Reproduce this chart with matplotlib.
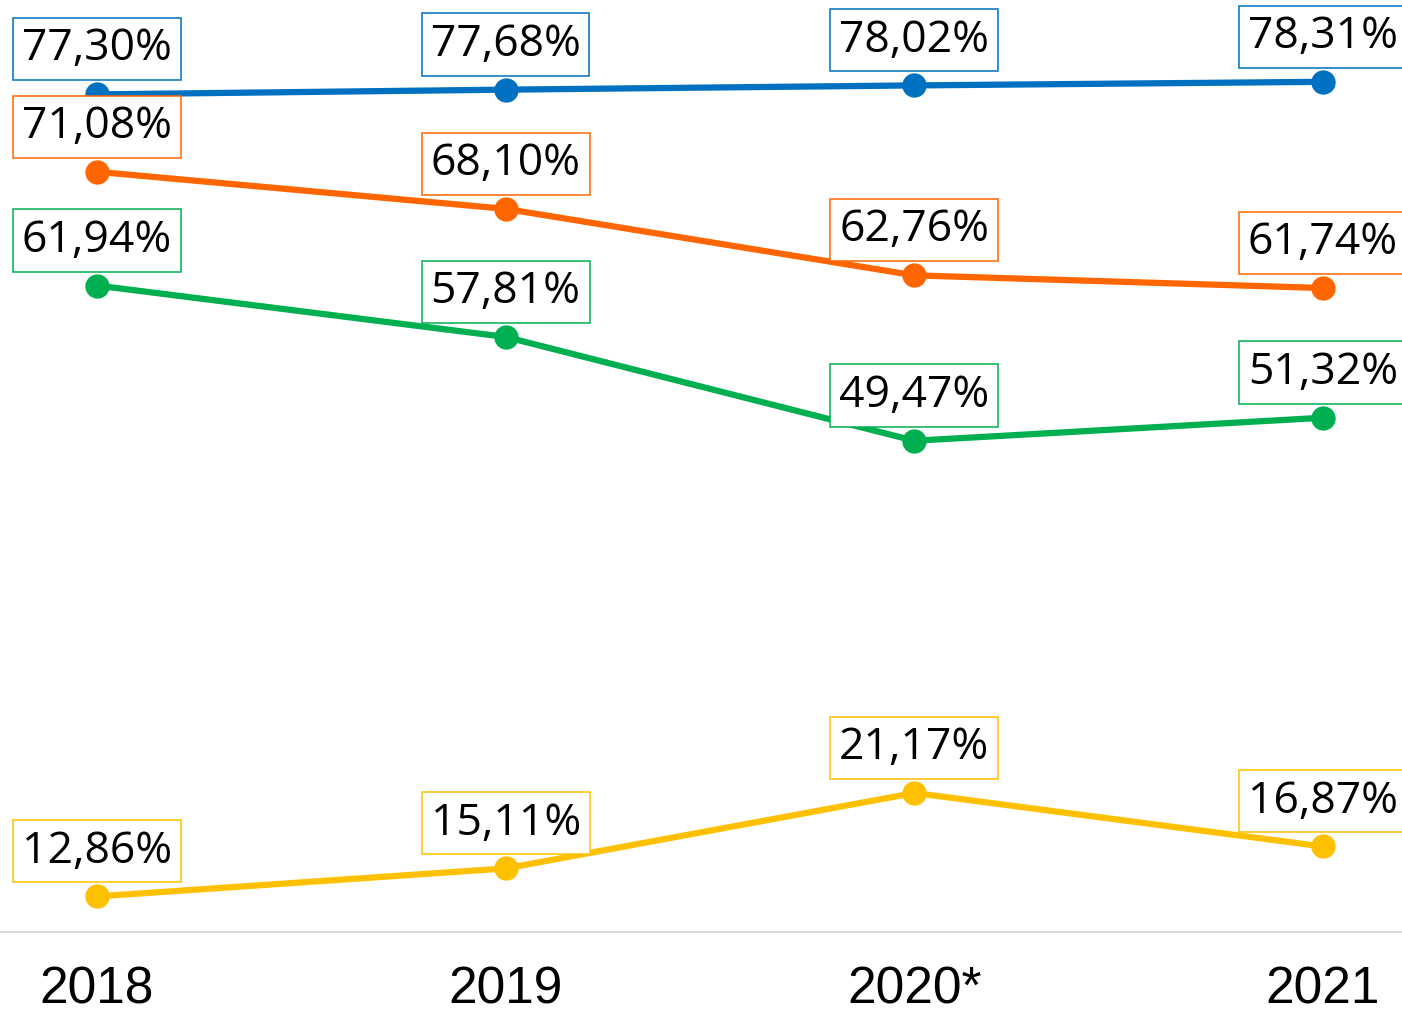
import matplotlib
matplotlib.use("Agg")
import matplotlib.pyplot as plt

years = ["2018", "2019", "2020*", "2021"]
blue = [77.30, 77.68, 78.02, 78.31]
orange = [71.08, 68.10, 62.76, 61.74]
green = [61.94, 57.81, 49.47, 51.32]
yellow = [12.86, 15.11, 21.17, 16.87]

series = [
    (blue, "#0070C0"),
    (orange, "#FF6600"),
    (green, "#00B050"),
    (yellow, "#FFC000"),
]

fig = plt.figure(figsize=(14.02, 10.16), dpi=100)
ax = fig.add_axes([0, 84 / 1016, 1, 932 / 1016])

x = list(range(len(years)))
for vals, col in series:
    ax.plot(x, vals, color=col, lw=4.5, marker="o", ms=16.5, zorder=3)
    for xi, v in zip(x, vals):
        txt = f"{v:.2f}%".replace(".", ",")
        ax.annotate(txt, (xi, v), xytext=(0, 32.5), textcoords="offset points",
                    ha="center", va="center", fontsize=32, family="Open Sans",
                    color="black", zorder=5,
                    bbox=dict(boxstyle="square,pad=0.2", fc="white", ec=col, lw=1.1))

ax.set_xlim(-97 / 408.67, 3 + 79 / 408.67)
ax.set_ylim(10, 10 + 932 / 12.446)
ax.set_xticks(x)
ax.set_xticklabels(years, fontsize=37, family="Liberation Sans")
ax.tick_params(axis="x", length=0, pad=24)
ax.set_yticks([])
for s in ["top", "left", "right"]:
    ax.spines[s].set_visible(False)
ax.spines["bottom"].set_color("#D9D9D9")
ax.spines["bottom"].set_linewidth(1.6)

fig.savefig("out.png", dpi=100)
